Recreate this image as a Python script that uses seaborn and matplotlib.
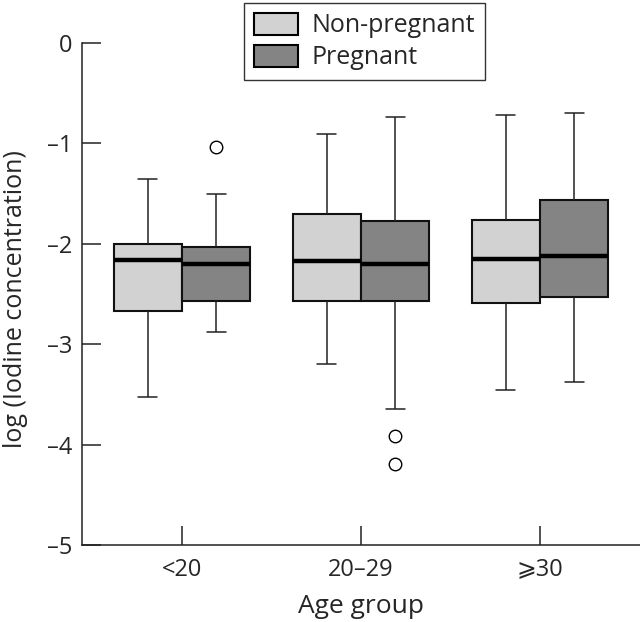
import numpy as np
import pandas as pd
import matplotlib
matplotlib.use("Agg")
import matplotlib.pyplot as plt
import seaborn as sns
from matplotlib.patches import Patch

# ---- data ----
groups = ["<20", "20–29", "⩾30"]
statuses = ["Non-pregnant", "Pregnant"]

# one value per box: <20 NP, <20 P, 20-29 NP, 20-29 P, >=30 NP, >=30 P
whisker_low = [-3.53, -2.875, -3.20, -3.645, -3.46, -3.375]
q1 = [-2.67, -2.57, -2.57, -2.57, -2.59, -2.53]
median = [-2.16, -2.20, -2.17, -2.20, -2.15, -2.125]
q3 = [-2.005, -2.03, -1.705, -1.77, -1.76, -1.565]
whisker_high = [-1.35, -1.505, -0.905, -0.74, -0.715, -0.695]
outliers = [[], [-1.04], [], [-3.91, -4.19], [], []]

yticks = [0, -1, -2, -3, -4, -5]

# build samples that reproduce the box statistics
rows = []
i = 0
for g in groups:
    for s in statuses:
        vals = ([whisker_low[i]] + [q1[i]] * 10 + [median[i]] * 10
                + [q3[i]] * 10 + [whisker_high[i]] + outliers[i])
        for v in vals:
            rows.append({"group": g, "status": s, "value": v})
        i += 1
df = pd.DataFrame(rows)

sns.set_style("ticks")
plt.rcParams["font.family"] = ["Open Sans", "DejaVu Sans"]

fig = plt.figure(figsize=(6.4, 6.22), dpi=100)
ax = fig.add_axes([82 / 640, 77 / 622, 558 / 640, 502 / 622])

colors = {"Non-pregnant": "#d2d2d2", "Pregnant": "#848484"}

sns.boxplot(data=df, x="group", y="value", hue="status",
            order=groups, hue_order=statuses, palette=colors,
            width=0.765, gap=0, linecolor="#111111", linewidth=1.5,
            fliersize=9, legend=False, ax=ax,
            medianprops=dict(color="black", linewidth=3.2),
            whiskerprops=dict(color="#222222", linewidth=1.1),
            capprops=dict(color="#222222", linewidth=1.1),
            flierprops=dict(marker="o", markerfacecolor="white",
                            markeredgecolor="black", markeredgewidth=1.0))

# shorter caps
for line in ax.lines:
    xd = np.asarray(line.get_xdata(), dtype=float)
    yd = np.asarray(line.get_ydata(), dtype=float)
    if len(xd) == 2 and yd[0] == yd[1] and abs(xd[1] - xd[0]) < 0.3 and line.get_linewidth() < 2:
        c = xd.mean()
        line.set_xdata([c - 0.053, c + 0.053])

ax.set_xlim(-0.559, 2.559)
ax.set_ylim(-5, 0)
ax.set_yticks(yticks)
ax.set_yticklabels([str(t).replace("-", "–") for t in yticks])
ax.tick_params(axis="both", direction="in", length=13.5, width=1.1,
               color="#222222", labelsize=17)
ax.tick_params(axis="y", pad=7)
ax.tick_params(axis="x", pad=9)
ax.set_xlabel("Age group", fontsize=19, labelpad=9)
ax.set_ylabel("log (Iodine concentration)", fontsize=18)
ax.yaxis.set_label_coords(-0.097, 0.49)
for side in ["top", "right"]:
    ax.spines[side].set_visible(False)
for side in ["left", "bottom"]:
    ax.spines[side].set_linewidth(1.1)
    ax.spines[side].set_color("#222222")

handles = [Patch(facecolor=colors[s], edgecolor="black", linewidth=1.5, label=s)
           for s in statuses]
leg = ax.legend(handles=handles, loc="upper center",
                bbox_to_anchor=(364.5 / 640, 1.0), bbox_transform=fig.transFigure,
                fontsize=18, frameon=True, fancybox=False, borderaxespad=0.1,
                handlelength=1.75, handleheight=1.0, handletextpad=0.55,
                labelspacing=0.25, borderpad=0.4)
leg.get_frame().set_edgecolor("black")
leg.get_frame().set_linewidth(1.0)

fig.savefig("out.png", dpi=100)
